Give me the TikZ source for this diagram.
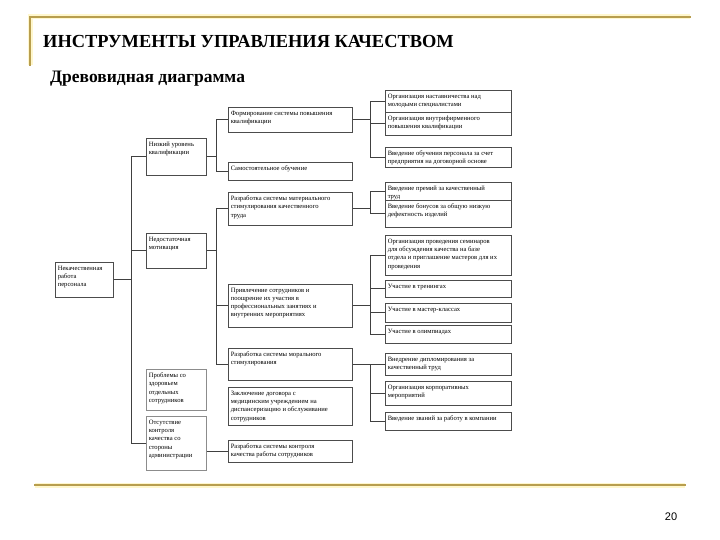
\documentclass[tikz,border=0pt]{standalone}
\usepackage{fontspec}
\setmainfont{Liberation Serif}
\newfontfamily\arialfont{Liberation Sans}
\usepackage{xcolor}
\usepackage{tikz}
\usetikzlibrary{positioning,arrows.meta}
\definecolor{gold}{RGB}{184,158,78}
\definecolor{glow}{RGB}{255,247,205}
\newcommand{\cell}[3]{\parbox[c][#2pt][t]{#1pt}{\raggedright\vspace*{1.5pt}#3}}

\begin{document}
\begin{tikzpicture}[x=1pt, y=-1pt,
    every node/.style={font=\fontsize{6.6}{8.3}\selectfont},
    box/.style={draw=black!70, line width=0.5pt, anchor=north west,
                inner xsep=2.5pt, inner ysep=2pt, fill=white},
    link/.style={draw=black!75, line width=0.6pt},
    frame/.style={draw=gold, line width=1.6pt, line cap=rect},
]
\useasboundingbox (0,0) rectangle (720,540);
% gold frame
\draw[glow, line width=5pt] (30,65) -- (30,17) -- (690,17);
\draw[glow, line width=5pt] (35,485) -- (685,485);
\draw[frame] (30,65) -- (30,17) -- (690,17);
\draw[frame] (35,485) -- (685,485);
\node[anchor=base west, inner sep=0pt, font=\fontsize{18.4}{22}\selectfont\bfseries] (title) at (43,48) {ИНСТРУМЕНТЫ УПРАВЛЕНИЯ КАЧЕСТВОМ};
\node[anchor=base west, inner sep=0pt, font=\fontsize{17.5}{20}\selectfont\bfseries] (sub) at (50,83) {Древовидная диаграмма};
\node[inner sep=0pt, font=\fontsize{11}{13}\selectfont\arialfont] (page) at (671,517) {20};
% root and first level
\node[box] (root)    at (55,262)  {\cell{53}{31}{Некачественная\\работа\\персонала}};
\node[box] (low)     at (146,138) {\cell{55}{33}{Низкий уровень\\квалификации}};
\node[box] (motiv)   at (146,233) {\cell{55}{31}{Недостаточная\\мотивация}};
\node[box, draw=black!45] (health)  at (146,369) {\cell{55}{37}{Проблемы со\\здоровьем\\отдельных\\сотрудников}};
\node[box, draw=black!45] (control) at (146,416) {\cell{55}{50}{Отсутствие\\контроля\\качества со\\стороны\\администрации}};
% second level
\node[box] (train)   at (228,107) {\cell{119}{21}{Формирование системы повышения\\квалификации}};
\node[box] (self)    at (228,162) {\cell{119}{14}{Самостоятельное обучение}};
\node[box] (money)   at (228,192) {\cell{119}{29}{Разработка системы материального\\стимулирования качественного\\труда}};
\node[box] (involve) at (228,284) {\cell{119}{39}{Привлечение сотрудников и\\поощрение их участия в\\профессиональных занятиях и\\внутренних мероприятиях}};
\node[box] (moral)   at (228,348) {\cell{119}{28}{Разработка системы морального\\стимулирования}};
\node[box] (medic)   at (228,387) {\cell{119}{34}{Заключение договора с\\медицинским учреждением на\\диспансеризацию и обслуживание\\сотрудников}};
\node[box] (check)   at (228,440) {\cell{119}{18}{Разработка системы контроля\\качества работы сотрудников}};
% third level
\node[box] (mentor)  at (385,90)  {\cell{121}{18}{Организация наставничества над\\молодыми специалистами}};
\node[box] (inhouse) at (385,112) {\cell{121}{19}{Организация внутрифирменного\\повышения квалификации}};
\node[box] (contract) at (385,147) {\cell{121}{16}{Введение обучения персонала за счет\\предприятия на договорной основе}};
\node[box] (bonus)   at (385,182) {\cell{121}{14}{Введение премий за качественный\\труд}};
\node[box] (defect)  at (385,200) {\cell{121}{23}{Введение бонусов за общую низкую\\дефектность изделий}};
\node[box] (seminar) at (385,235) {\cell{121}{36}{Организация проведения семинаров\\для обсуждения качества на базе\\отдела и приглашение мастеров для их\\проведения}};
\node[box] (tren)    at (385,280) {\cell{121}{13}{Участие в тренингах}};
\node[box] (master)  at (385,303) {\cell{121}{15}{Участие в мастер-классах}};
\node[box] (olymp)   at (385,325) {\cell{121}{14}{Участие в олимпиадах}};
\node[box] (diplom)  at (385,353) {\cell{121}{18}{Внедрение дипломирования за\\качественный труд}};
\node[box] (corp)    at (385,381) {\cell{121}{20}{Организация корпоративных\\мероприятий}};
\node[box] (rank)    at (385,412) {\cell{121}{14}{Введение званий за работу в компании}};
% connectors
\draw[link] (root.east) -- ++(18,0) coordinate (b0);
\foreach \t in {low,motiv,control} \draw[link] (b0) |- (\t.west);
\draw[link] (low.east) -- ++(10,0) coordinate (b1);
\foreach \t in {train,self} \draw[link] (b1) |- (\t.west);
\draw[link] (motiv.east) -- ++(10,0) coordinate (b2);
\foreach \t in {money,involve,moral} \draw[link] (b2) |- (\t.west);
\draw[link] (control.east |- check.west) -- (check.west);
\draw[link] (train.east) -- ++(18,0) coordinate (c1);
\foreach \t in {mentor,inhouse,contract} \draw[link] (c1) |- (\t.west);
\draw[link] (money.east) -- ++(18,0) coordinate (c2);
\foreach \t in {bonus,defect} \draw[link] (c2) |- (\t.west);
\draw[link] (involve.east) -- ++(18,0) coordinate (c3);
\foreach \t in {seminar,tren,master,olymp} \draw[link] (c3) |- (\t.west);
\draw[link] (moral.east) -- ++(18,0) coordinate (c4);
\foreach \t in {diplom,corp,rank} \draw[link] (c4) |- (\t.west);
\end{tikzpicture}
\end{document}
